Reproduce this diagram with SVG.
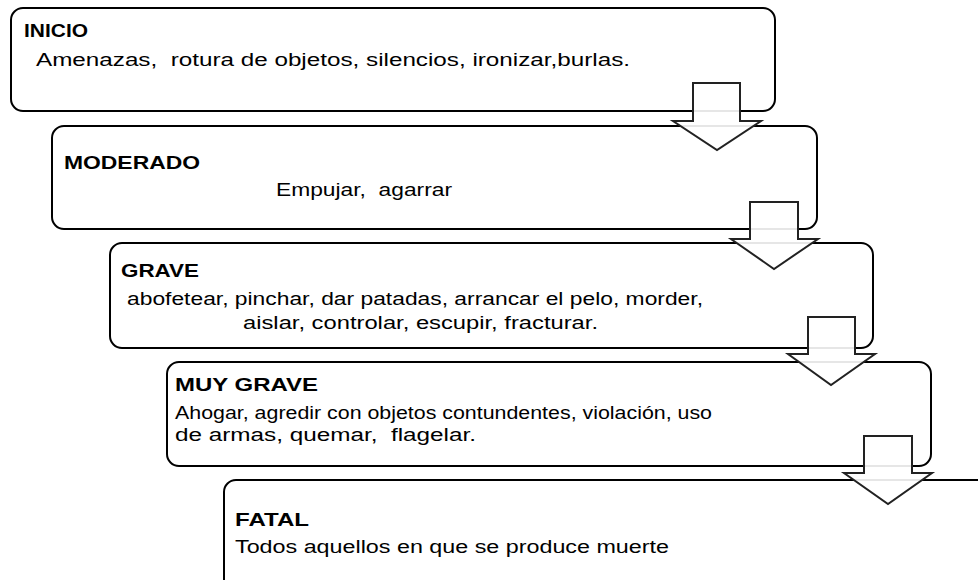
<svg xmlns="http://www.w3.org/2000/svg" width="978" height="580" viewBox="0 0 978 580">
<style>
.box{fill:#fff;stroke:#000;stroke-width:2}
.arr{fill:#fff;fill-opacity:0.9;stroke:#222;stroke-width:2;stroke-linejoin:miter}
.t{font-family:"Liberation Sans",Arial,sans-serif;font-size:17.5px;font-weight:bold;fill:#000;white-space:pre}
.b{font-family:"Liberation Sans",Arial,sans-serif;font-size:17.5px;fill:#000;white-space:pre}
</style>
<rect width="978" height="580" fill="#fff"/>
<g id="inicio">
<rect class="box" x="11" y="8" width="764" height="103" rx="12"/>
<text class="t" x="24" y="37" textLength="64" lengthAdjust="spacingAndGlyphs">INICIO</text>
<text class="b" x="36" y="66" textLength="594" lengthAdjust="spacingAndGlyphs" xml:space="preserve">Amenazas,  rotura de objetos, silencios, ironizar,burlas.</text>
</g>
<g id="moderado">
<rect class="box" x="52" y="126" width="765" height="103" rx="12"/>
<text class="t" x="64" y="169" textLength="136" lengthAdjust="spacingAndGlyphs">MODERADO</text>
<text class="b" x="276" y="196" textLength="176" lengthAdjust="spacingAndGlyphs" xml:space="preserve">Empujar,  agarrar</text>
</g>
<g id="grave">
<rect class="box" x="110" y="243" width="763" height="105" rx="12"/>
<text class="t" x="121" y="277" textLength="78" lengthAdjust="spacingAndGlyphs">GRAVE</text>
<text class="b" x="127" y="305" textLength="576" lengthAdjust="spacingAndGlyphs">abofetear, pinchar, dar patadas, arrancar el pelo, morder,</text>
<text class="b" x="243" y="329" textLength="355" lengthAdjust="spacingAndGlyphs">aislar, controlar, escupir, fracturar.</text>
</g>
<g id="muy-grave">
<rect class="box" x="167" y="362" width="764" height="104" rx="12"/>
<text class="t" x="175" y="391" textLength="143" lengthAdjust="spacingAndGlyphs">MUY GRAVE</text>
<text class="b" x="175" y="419" textLength="537" lengthAdjust="spacingAndGlyphs">Ahogar, agredir con objetos contundentes, violación, uso</text>
<text class="b" x="175" y="441" textLength="301" lengthAdjust="spacingAndGlyphs" xml:space="preserve">de armas, quemar,  flagelar.</text>
</g>
<g id="fatal">
<rect class="box" x="224" y="480" width="780" height="130" rx="12"/>
<text class="t" x="235" y="526" textLength="74" lengthAdjust="spacingAndGlyphs">FATAL</text>
<text class="b" x="235" y="553" textLength="434" lengthAdjust="spacingAndGlyphs">Todos aquellos en que se produce muerte</text>
</g>
<g id="connectors">
<path class="arr" d="M693,83 H740 V121 H761 L717,150 L673,121 H693 Z"/>
<path class="arr" d="M750,202 H798 V239 H818 L774,269 L731,239 H750 Z"/>
<path class="arr" d="M808,317 H855 V354 H875 L831,385 L788,354 H808 Z"/>
<path class="arr" d="M864,436 H912 V473 H932 L888,504 L844,473 H864 Z"/>
</g>
</svg>
